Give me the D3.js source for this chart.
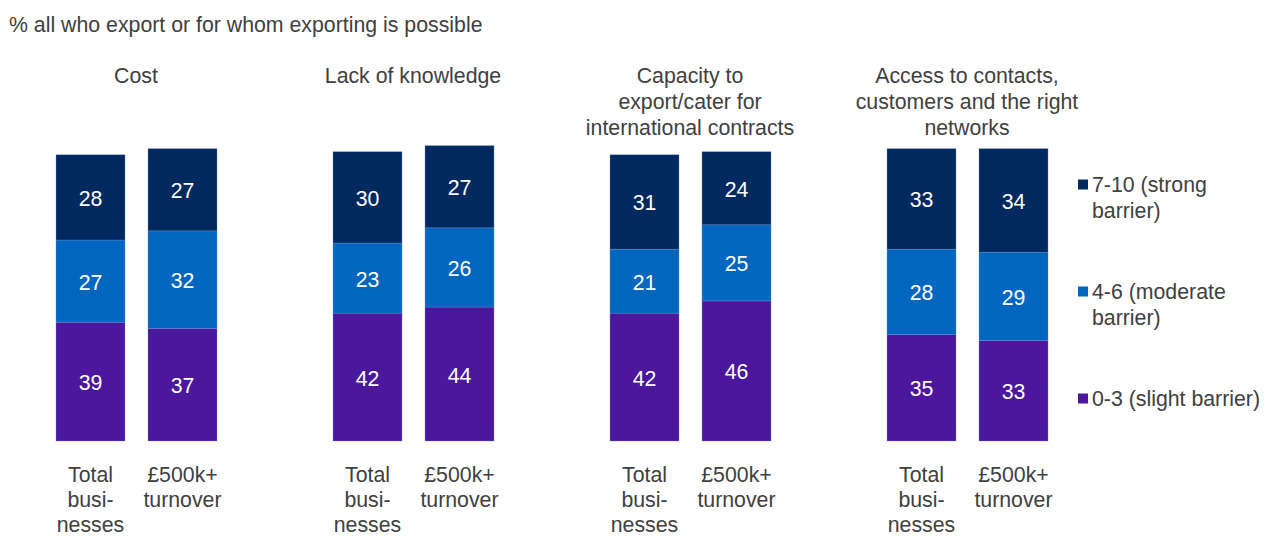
<!DOCTYPE html>
<html><head><meta charset="utf-8">
<script src="https://cdn.jsdelivr.net/npm/d3@7/dist/d3.min.js"></script>
<style>body{margin:0;background:#fff}svg{display:block;font-family:"Liberation Sans",Arial,sans-serif}</style>
</head><body>
<svg id="c" width="1266" height="537"></svg>
<script>
const categories = ["Cost", "Lack of knowledge", "Capacity to export/cater for international contracts", "Access to contacts, customers and the right networks"];
const categoryLines = [["Cost"], ["Lack of knowledge"], ["Capacity to", "export/cater for", "international contracts"], ["Access to contacts,", "customers and the right", "networks"]];
const groups = ["Total businesses", "£500k+ turnover"];
const groupLines = [["Total", "busi-", "nesses"], ["£500k+", "turnover"]];
const seriesNames = ["0-3 (slight barrier)", "4-6 (moderate barrier)", "7-10 (strong barrier)"];
const legendLines = [["0-3 (slight barrier)"], ["4-6 (moderate", "barrier)"], ["7-10 (strong", "barrier)"]];
const slight   = [[39, 37], [42, 44], [42, 46], [35, 33]];
const moderate = [[27, 32], [23, 26], [21, 25], [28, 29]];
const strong   = [[28, 27], [30, 27], [31, 24], [33, 34]];
const colors = ["#4B179D", "#0066BF", "#002960"];
const title = "% all who export or for whom exporting is possible";

const svg = d3.select("#c");
const txt = "#404040";
const fs = 21.3;

svg.append("text").attr("x", 9).attr("y", 32).attr("fill", txt).attr("font-size", fs).text(title);

const x0 = d3.scaleBand().domain(categories).range([-2.5, -2.5 + 277 * 4]).padding(0);
const x1 = d3.scaleBand().domain(groups).range([58.5, 219.5]).paddingInner(0.25).paddingOuter(0);
const y = d3.scaleLinear().domain([0, 100]).range([441, 136.5]);

const series = [slight, moderate, strong];
categories.forEach((cat, ci) => {
  const g = svg.append("g").attr("transform", `translate(${x0(cat)},0)`);
  const cx = x0.bandwidth() / 2;
  categoryLines[ci].forEach((l, li) => {
    g.append("text").attr("x", cx).attr("y", 83 + li * 26).attr("text-anchor", "middle")
      .attr("fill", txt).attr("font-size", fs).text(l);
  });
  groups.forEach((grp, gi) => {
    let base = 0;
    series.forEach((s, si) => {
      const v = s[ci][gi];
      const y0 = y(base), y1 = y(base + v);
      g.append("rect").attr("x", x1(grp)).attr("width", x1.bandwidth())
        .attr("y", y1).attr("height", y0 - y1).attr("fill", colors[si])
        .attr("stroke", "#6f8fd0").attr("stroke-width", 0.6).attr("stroke-opacity", 0.6);
      g.append("text").attr("x", x1(grp) + x1.bandwidth() / 2).attr("y", (y0 + y1) / 2 + 8.5)
        .attr("text-anchor", "middle").attr("fill", "#fff").attr("font-size", fs).text(v);
      base += v;
    });
    groupLines[gi].forEach((l, li) => {
      g.append("text").attr("x", x1(grp) + x1.bandwidth() / 2).attr("y", 482 + li * 25)
        .attr("text-anchor", "middle").attr("fill", txt).attr("font-size", fs).text(l);
    });
  });
});

// legend (top to bottom: strong, moderate, slight)
const legendY = [184.5, 291.5, 398.5];
[2, 1, 0].forEach((si, k) => {
  const yy = legendY[k];
  svg.append("rect").attr("x", 1078).attr("y", yy - 5).attr("width", 10).attr("height", 10).attr("fill", colors[si]);
  legendLines[si].forEach((l, li) => {
    svg.append("text").attr("x", 1092).attr("y", yy + 7.5 + li * 26).attr("fill", txt).attr("font-size", fs).text(l);
  });
});
</script>
</body></html>
